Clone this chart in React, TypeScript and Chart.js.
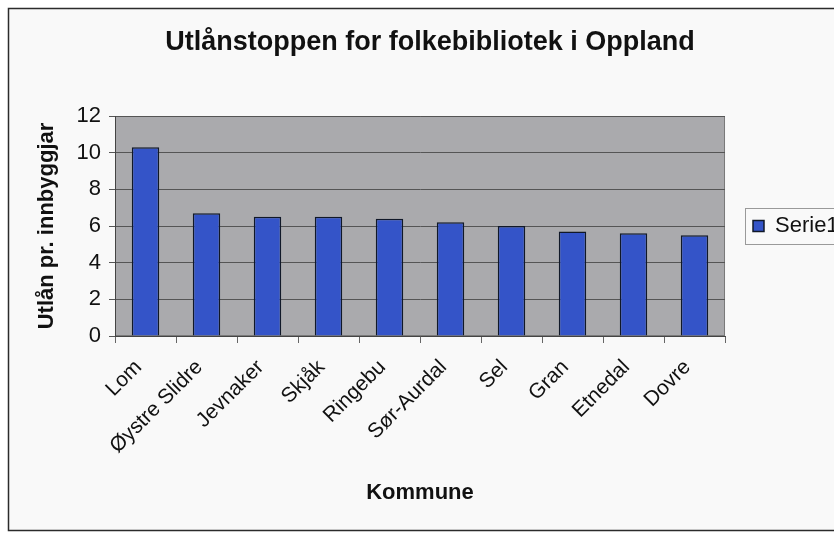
import React, { useEffect, useRef } from "react";
import { Chart, registerables } from "chart.js";

Chart.register(...registerables);

// ---- data ----
const categories = [
  "Lom",
  "Øystre Slidre",
  "Jevnaker",
  "Skjåk",
  "Ringebu",
  "Sør-Aurdal",
  "Sel",
  "Gran",
  "Etnedal",
  "Dovre",
];
const values = [10.3, 6.7, 6.5, 6.5, 6.4, 6.2, 6.0, 5.7, 5.6, 5.5];
const yTickValues = [0, 2, 4, 6, 8, 10, 12];
const seriesName = "Serie1";
const chartTitle = "Utlånstoppen for folkebibliotek i Oppland";
const yAxisTitle = "Utlån pr. innbyggjar";
const xAxisTitle = "Kommune";

const FONT = "'Liberation Sans', Arial, sans-serif";
const W = 834;
const H = 535;

const decorPlugin = {
  id: "decor",
  afterLayout(chart: any) {
    const legend = chart.legend;
    const ca = chart.chartArea;
    if (legend && ca) {
      legend.top = ca.top;
      legend.bottom = ca.bottom;
      legend.height = ca.bottom - ca.top;
    }
  },
  beforeDraw(chart: any) {
    const { ctx, chartArea } = chart;
    ctx.save();
    ctx.fillStyle = "#ffffff";
    ctx.fillRect(0, 0, chart.width, chart.height);
    ctx.fillStyle = "#f9f9f9";
    ctx.fillRect(8, 8, chart.width, 523);
    // frame
    ctx.strokeStyle = "#2b2b2b";
    ctx.lineWidth = 1.5;
    ctx.strokeRect(8.5, 8.5, chart.width + 10, 522);
    // plot area
    ctx.fillStyle = "#aaaaad";
    ctx.fillRect(
      chartArea.left,
      chartArea.top,
      chartArea.right - chartArea.left,
      chartArea.bottom - chartArea.top
    );
    ctx.strokeStyle = "#7a7a7a";
    ctx.lineWidth = 1;
    ctx.strokeRect(
      chartArea.left + 0.5,
      chartArea.top + 0.5,
      chartArea.right - chartArea.left - 1,
      chartArea.bottom - chartArea.top - 1
    );
    ctx.restore();
  },
  afterDraw(chart: any) {
    const { ctx } = chart;
    const legend = chart.legend;
    if (!legend || !legend.legendHitBoxes || !legend.legendHitBoxes.length) return;
    const hb = legend.legendHitBoxes[0];
    const cy = hb.top + hb.height / 2;
    ctx.save();
    ctx.strokeStyle = "#9a9a9a";
    ctx.lineWidth = 1;
    ctx.strokeRect(Math.round(hb.left - 8) + 0.5, Math.round(cy - 18) + 0.5, 200, 36);
    ctx.restore();
  },
};

export default function App() {
  const ref = useRef<HTMLCanvasElement | null>(null);

  useEffect(() => {
    if (!ref.current) return;
    Chart.defaults.font.family = FONT;
    const chart = new Chart(ref.current, {
      type: "bar",
      data: {
        labels: categories,
        datasets: [
          {
            label: seriesName,
            data: values,
            backgroundColor: "#3454c8",
            borderColor: "#101828",
            borderWidth: 1.5,
            barPercentage: 0.45,
            categoryPercentage: 1,
          },
        ],
      },
      options: {
        responsive: false,
        animation: false,
        layout: { padding: { left: 11.4, top: 0, right: -14.6, bottom: 0 } },
        plugins: {
          title: {
            display: true,
            text: chartTitle,
            color: "#111111",
            font: { family: FONT, size: 27, weight: "bold" },
            padding: { top: 26.8, bottom: 56.8 },
          },
          legend: {
            display: true,
            position: "right",
            labels: {
              boxWidth: 11,
              boxHeight: 11,
              padding: 28,
              color: "#111111",
              font: { family: FONT, size: 22 },
              useBorderRadius: false,
            },
          },
          tooltip: { enabled: false },
        },
        scales: {
          x: {
            type: "category",
            offset: true,
            grid: {
              display: true,
              drawOnChartArea: false,
              drawTicks: true,
              tickLength: 7,
              color: "#666666",
              offset: true,
            },
            border: { display: true, color: "#444444", width: 1 },
            ticks: {
              color: "#111111",
              font: { family: FONT, size: 21 },
              maxRotation: 45,
              minRotation: 45,
              padding: 12,
              labelOffset: -7,
            },
            title: {
              display: true,
              text: xAxisTitle,
              color: "#111111",
              font: { family: FONT, size: 22, weight: "bold" },
              padding: { top: 0, bottom: 29.3 },
            },
            afterFit: (s: any) => {
              s.height = 199;
            },
          },
          y: {
            min: 0,
            max: 12,
            afterBuildTicks: (s: any) => {
              s.ticks = yTickValues.map((v) => ({ value: v }));
            },
            grid: {
              color: "#555555",
              lineWidth: 1,
              drawTicks: true,
              tickLength: 6,
            },
            border: { display: true, color: "#444444", width: 1 },
            ticks: {
              color: "#111111",
              font: { family: FONT, size: 22 },
              padding: 8,
            },
            title: {
              display: true,
              text: yAxisTitle,
              color: "#111111",
              font: { family: FONT, size: 22, weight: "bold" },
              padding: { top: 22.4, bottom: 0 },
            },
            afterFit: (s: any) => {
              s.width = 103.6;
            },
          },
        },
      },
      plugins: [decorPlugin],
    });
    return () => chart.destroy();
  }, []);

  return (
    <div style={{ position: "absolute", left: 0, top: 0, width: W, height: H }}>
      <canvas ref={ref} width={W} height={H} style={{ width: W, height: H, display: "block" }} />
    </div>
  );
}
